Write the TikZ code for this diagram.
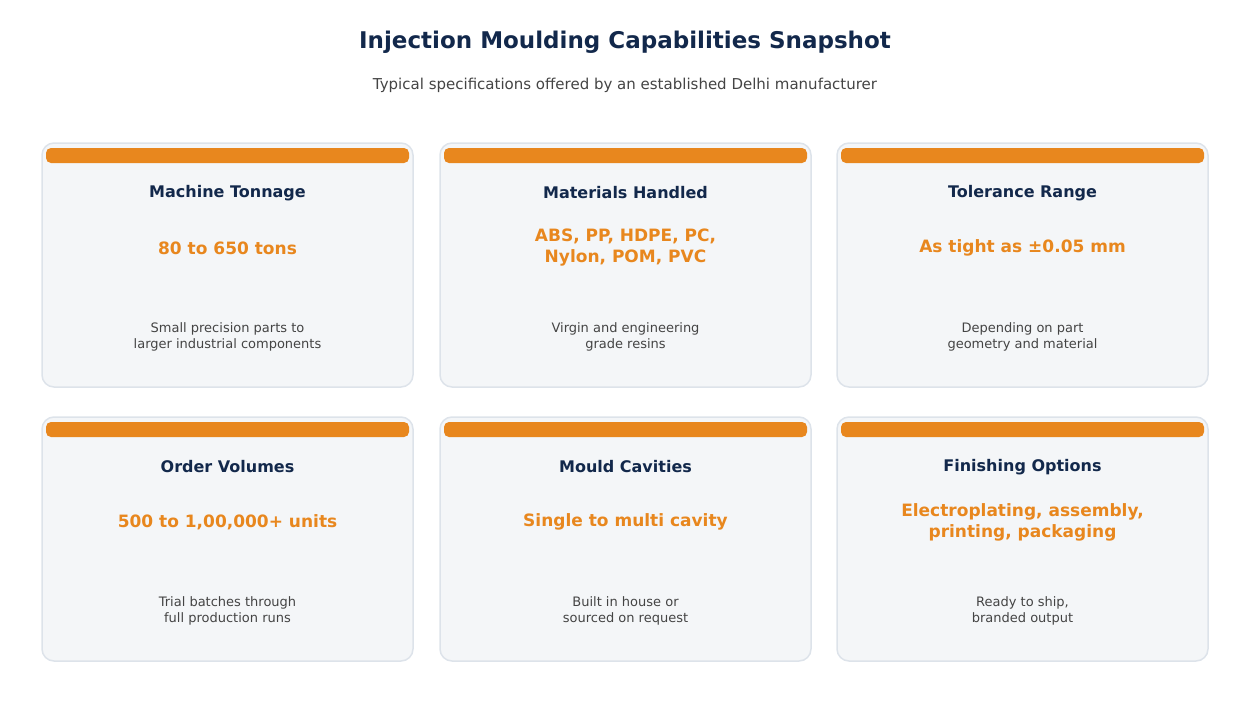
\documentclass[tikz,border=0pt]{standalone}
\usepackage{fontspec}
\setmainfont{DejaVu Sans}
\definecolor{navy}{HTML}{12284B}
\definecolor{orng}{HTML}{E8871E}
\definecolor{txtg}{HTML}{444444}
\definecolor{cardbg}{HTML}{F4F6F8}
\definecolor{cardln}{HTML}{DDE3EA}
\begin{document}
\begin{tikzpicture}[x=1pt,y=-1pt,
  card/.style={fill=cardbg,draw=cardln,line width=1.5pt,rounded corners=12pt},
  bar/.style={fill=orng,rounded corners=5pt},
  ttl/.style={font=\bfseries\fontsize{16}{19}\selectfont,text=navy,align=center},
  val/.style={font=\bfseries\fontsize{17}{21}\selectfont,text=orng,align=center},
  desc/.style={font=\fontsize{13}{16}\selectfont,text=txtg,align=center}]
\useasboundingbox (0,0) rectangle (1250,723);
\node[font=\bfseries\fontsize{23}{28}\selectfont,text=navy] (title) at (625,42) {Injection Moulding Capabilities Snapshot};
\node[font=\fontsize{15}{18}\selectfont,text=txtg] (sub) at (625,85) {Typical specifications offered by an established Delhi manufacturer};
\foreach \i/\x/\y/\t/\v/\d in {
 1/42/143/Machine Tonnage/80 to 650 tons/Small precision parts to\\larger industrial components,
 2/440/143/Materials Handled/{ABS, PP, HDPE, PC,\\Nylon, POM, PVC}/Virgin and engineering\\grade resins,
 3/837/143/Tolerance Range/As tight as ±0.05 mm/Depending on part\\geometry and material,
 4/42/417/Order Volumes/{500 to 1,00,000+ units}/Trial batches through\\full production runs,
 5/440/417/Mould Cavities/Single to multi cavity/Built in house or\\sourced on request,
 6/837/417/Finishing Options/{Electroplating, assembly,\\printing, packaging}/{Ready to ship,\\branded output}}{
 \draw[card] (\x,\y) rectangle ++(371,244);
 \fill[bar] (\x+4,\y+5) rectangle ++(363,15);
 \node[ttl] (t\i) at (\x+185.5,\y+50) {\t};
 \node[val] (v\i) at (\x+185.5,\y+105) {\v};
 \node[desc] (d\i) at (\x+185.5,\y+194) {\d};
}
\end{tikzpicture}
\end{document}
